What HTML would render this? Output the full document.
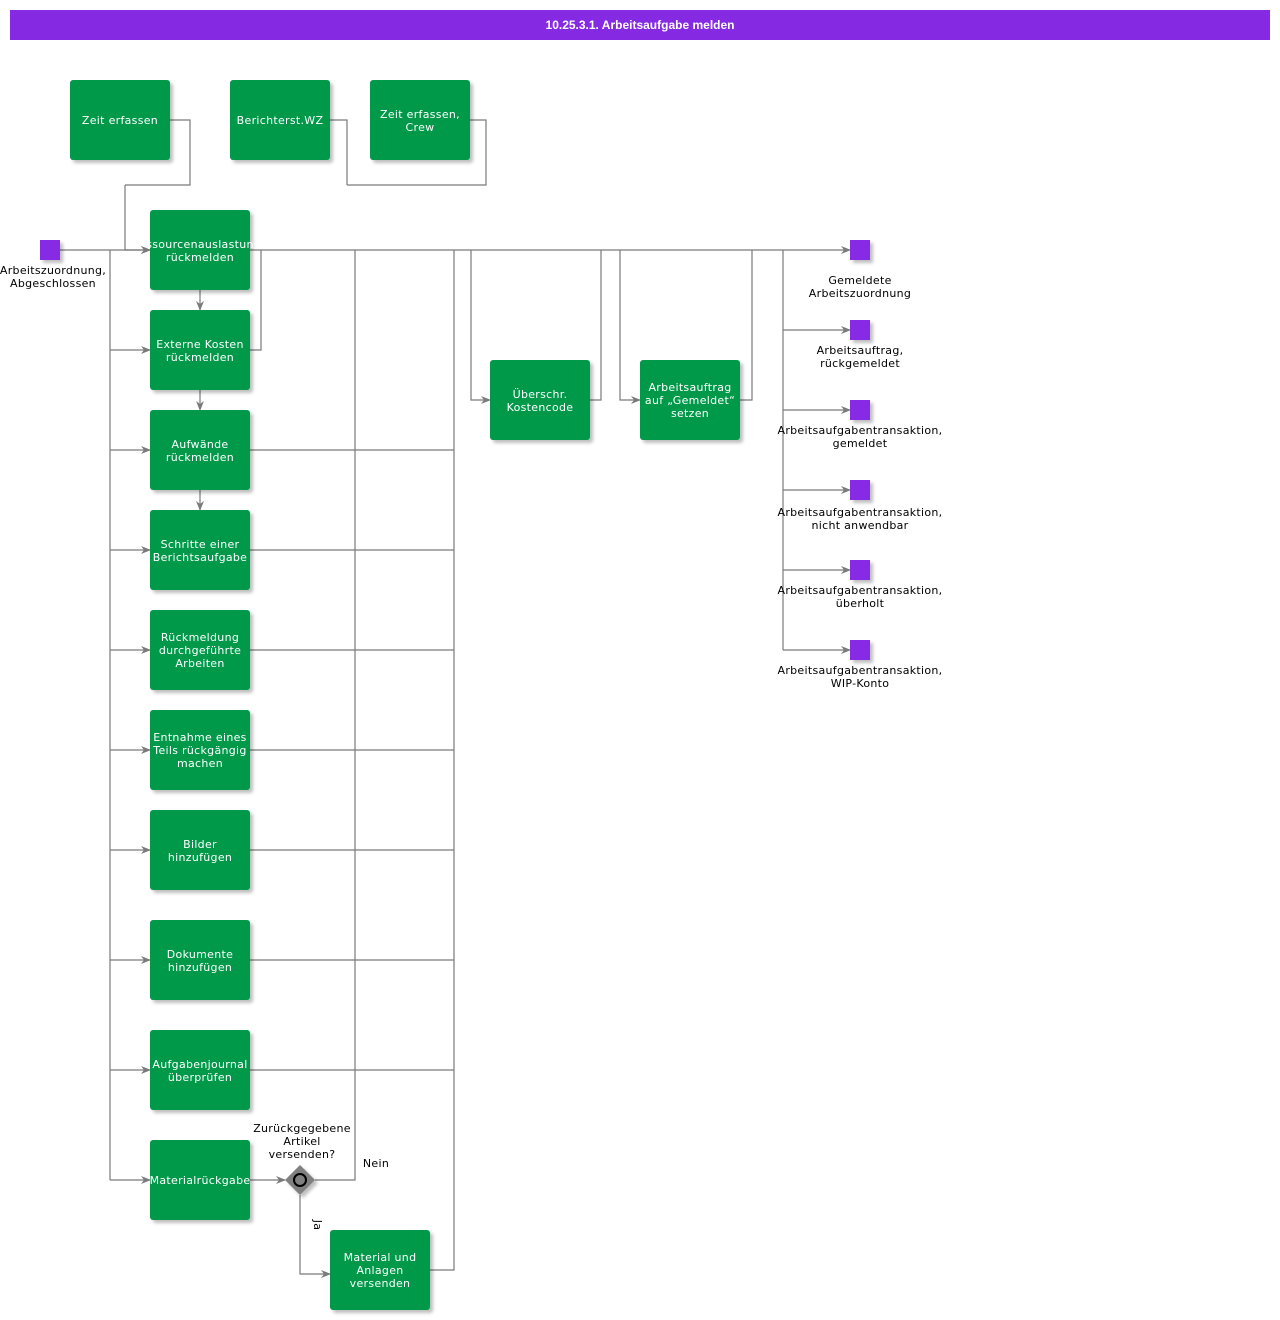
<!DOCTYPE html>
<html><head><meta charset="utf-8"><style>
html,body{margin:0;padding:0;background:#fff;}
svg{display:block;}
text{font-family:"DejaVu Sans","Liberation Sans",sans-serif;font-size:11px;letter-spacing:0.3px;}
.w{fill:#fff;}
.b{fill:#000;}
.l{fill:none;stroke:#7a7a7a;stroke-width:1.2;}
</style></head><body>
<svg width="1280" height="1320" viewBox="0 0 1280 1320" xmlns="http://www.w3.org/2000/svg">
<defs>
<marker id="a" markerWidth="10" markerHeight="10" refX="9" refY="5" orient="auto" markerUnits="userSpaceOnUse">
<path d="M0,1 L10,5 L0,9 L3,5 z" fill="#7a7a7a"/></marker>
<filter id="s" x="-10%" y="-10%" width="130%" height="130%"><feDropShadow dx="3" dy="3" stdDeviation="1.5" flood-color="#000" flood-opacity="0.25"/></filter>
</defs>
<rect x="10" y="10" width="1260" height="30" fill="#8629e3"/>
<text x="640" y="29" text-anchor="middle" class="w" style="font-family:'Liberation Sans',sans-serif;font-weight:bold;font-size:12px;letter-spacing:0">10.25.3.1. Arbeitsaufgabe melden</text>

<!-- connectors -->
<g class="l">
<path d="M170,120 H190 V185 H125"/>
<path d="M330,120 H347 V185"/>
<path d="M470,120 H486 V185 H347"/>
<path d="M125,185 V250 H150" marker-end="url(#a)"/>
<path d="M60,250 H150" marker-end="url(#a)"/>
<path d="M250,250 H850" marker-end="url(#a)"/>
<path d="M110,250 V1180"/>
<path d="M110,350 H150" marker-end="url(#a)"/>
<path d="M110,450 H150" marker-end="url(#a)"/>
<path d="M110,550 H150" marker-end="url(#a)"/>
<path d="M110,650 H150" marker-end="url(#a)"/>
<path d="M110,750 H150" marker-end="url(#a)"/>
<path d="M110,850 H150" marker-end="url(#a)"/>
<path d="M110,960 H150" marker-end="url(#a)"/>
<path d="M110,1070 H150" marker-end="url(#a)"/>
<path d="M110,1180 H150" marker-end="url(#a)"/>
<path d="M200,290 V310" marker-end="url(#a)"/>
<path d="M200,390 V410" marker-end="url(#a)"/>
<path d="M200,490 V510" marker-end="url(#a)"/>
<path d="M250,350 H261 V250"/>
<path d="M250,450 H454"/><path d="M250,550 H454"/><path d="M250,650 H454"/>
<path d="M250,750 H454"/><path d="M250,850 H454"/><path d="M250,960 H454"/>
<path d="M250,1070 H454"/>
<path d="M454,250 V1270 H430"/>
<path d="M315,1180 H355 V250"/>
<path d="M250,1180 H285" marker-end="url(#a)"/>
<path d="M300,1195 V1274 H330" marker-end="url(#a)"/>
<path d="M471,250 V400 H490" marker-end="url(#a)"/>
<path d="M590,400 H601 V250"/>
<path d="M620,250 V400 H640" marker-end="url(#a)"/>
<path d="M740,400 H752 V250"/>
<path d="M783,250 V650"/>
<path d="M783,330 H850" marker-end="url(#a)"/>
<path d="M783,410 H850" marker-end="url(#a)"/>
<path d="M783,490 H850" marker-end="url(#a)"/>
<path d="M783,570 H850" marker-end="url(#a)"/>
<path d="M783,650 H850" marker-end="url(#a)"/>
</g>

<!-- boxes -->
<g fill="#00984a" filter="url(#s)">
<rect x="70" y="80" width="100" height="80" rx="3"/>
<rect x="230" y="80" width="100" height="80" rx="3"/>
<rect x="370" y="80" width="100" height="80" rx="3"/>
<rect x="150" y="210" width="100" height="80" rx="3"/>
<rect x="150" y="310" width="100" height="80" rx="3"/>
<rect x="150" y="410" width="100" height="80" rx="3"/>
<rect x="150" y="510" width="100" height="80" rx="3"/>
<rect x="150" y="610" width="100" height="80" rx="3"/>
<rect x="150" y="710" width="100" height="80" rx="3"/>
<rect x="150" y="810" width="100" height="80" rx="3"/>
<rect x="150" y="920" width="100" height="80" rx="3"/>
<rect x="150" y="1030" width="100" height="80" rx="3"/>
<rect x="150" y="1140" width="100" height="80" rx="3"/>
<rect x="330" y="1230" width="100" height="80" rx="3"/>
<rect x="490" y="360" width="100" height="80" rx="3"/>
<rect x="640" y="360" width="100" height="80" rx="3"/>
</g>
<g fill="#8629e3" filter="url(#s)">
<rect x="40" y="240" width="20" height="20"/>
<rect x="850" y="240" width="20" height="20"/>
<rect x="850" y="320" width="20" height="20"/>
<rect x="850" y="400" width="20" height="20"/>
<rect x="850" y="480" width="20" height="20"/>
<rect x="850" y="560" width="20" height="20"/>
<rect x="850" y="640" width="20" height="20"/>
</g>
<!-- gateway -->
<path d="M300,1165 L315,1180 L300,1195 L285,1180 z" fill="#808080" filter="url(#s)"/>
<circle cx="300" cy="1180" r="6" fill="none" stroke="#000" stroke-width="2"/>

<g class="w" text-anchor="middle">
<text x="120" y="124">Zeit erfassen</text>
<text x="280" y="124">Berichterst.WZ</text>
<text x="420" y="118">Zeit erfassen,</text><text x="420" y="131">Crew</text>
<text x="200" y="248">ssourcenauslastun</text><text x="200" y="261">rückmelden</text>
<text x="200" y="348">Externe Kosten</text><text x="200" y="361">rückmelden</text>
<text x="200" y="448">Aufwände</text><text x="200" y="461">rückmelden</text>
<text x="200" y="548">Schritte einer</text><text x="200" y="561">Berichtsaufgabe</text>
<text x="200" y="641">Rückmeldung</text><text x="200" y="654">durchgeführte</text><text x="200" y="667">Arbeiten</text>
<text x="200" y="741">Entnahme eines</text><text x="200" y="754">Teils rückgängig</text><text x="200" y="767">machen</text>
<text x="200" y="848">Bilder</text><text x="200" y="861">hinzufügen</text>
<text x="200" y="958">Dokumente</text><text x="200" y="971">hinzufügen</text>
<text x="200" y="1068">Aufgabenjournal</text><text x="200" y="1081">überprüfen</text>
<text x="200" y="1184">Materialrückgabe</text>
<text x="380" y="1261">Material und</text><text x="380" y="1274">Anlagen</text><text x="380" y="1287">versenden</text>
<text x="540" y="398">Überschr.</text><text x="540" y="411">Kostencode</text>
<text x="690" y="391">Arbeitsauftrag</text><text x="690" y="404">auf „Gemeldet“</text><text x="690" y="417">setzen</text>
</g>
<g class="b" text-anchor="middle">
<text x="53" y="274">Arbeitszuordnung,</text><text x="53" y="287">Abgeschlossen</text>
<text x="860" y="284">Gemeldete</text><text x="860" y="297">Arbeitszuordnung</text>
<text x="860" y="354">Arbeitsauftrag,</text><text x="860" y="367">rückgemeldet</text>
<text x="860" y="434">Arbeitsaufgabentransaktion,</text><text x="860" y="447">gemeldet</text>
<text x="860" y="516">Arbeitsaufgabentransaktion,</text><text x="860" y="529">nicht anwendbar</text>
<text x="860" y="594">Arbeitsaufgabentransaktion,</text><text x="860" y="607">überholt</text>
<text x="860" y="674">Arbeitsaufgabentransaktion,</text><text x="860" y="687">WIP-Konto</text>
<text x="302" y="1132">Zurückgegebene</text><text x="302" y="1145">Artikel</text><text x="302" y="1158">versenden?</text>
<text x="376" y="1167">Nein</text>
<text x="0" y="0" transform="translate(314,1225) rotate(90)">Ja</text>
</g>
</svg>
</body></html>
